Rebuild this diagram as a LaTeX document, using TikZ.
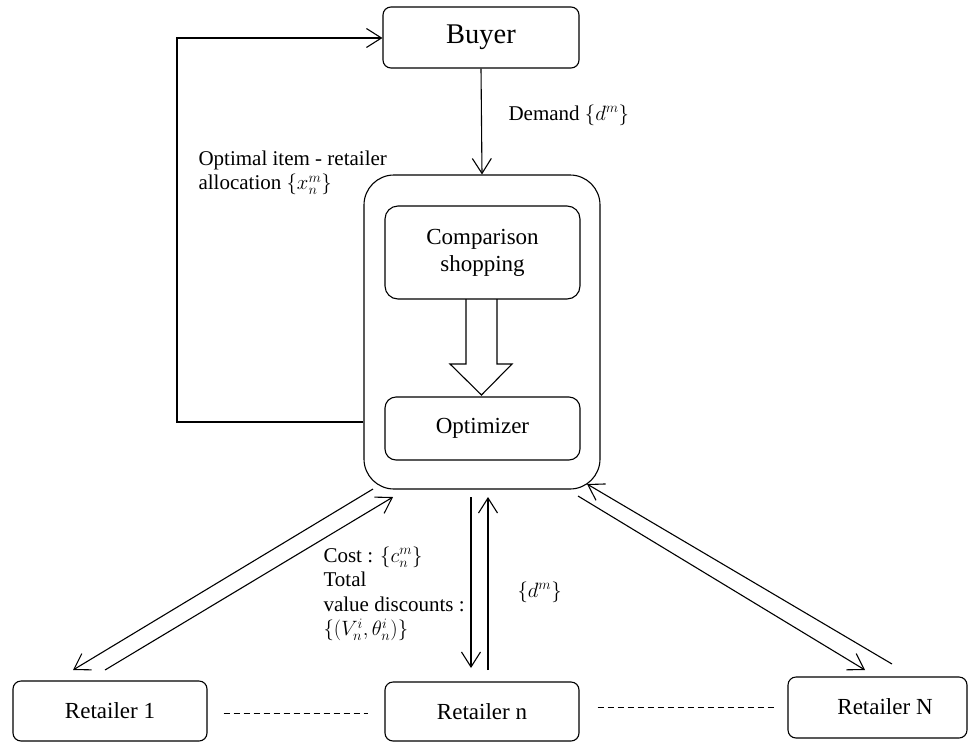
\documentclass[tikz,border=0pt]{standalone}
\usepackage{fontspec}
\setmainfont{LiberationSerif}[Extension=.ttf,UprightFont=*-Regular,BoldFont=*-Bold,ItalicFont=*-Italic,BoldItalicFont=*-BoldItalic]
\usetikzlibrary{arrows.meta}
\begin{document}
\begin{tikzpicture}[x=1pt,y=-1pt,
  every path/.style={line width=1.1pt},
  box/.style={draw,rounded corners=#1,inner sep=0pt,align=center},
  box/.default=8pt,
  lbl/.style={font=\fontsize{21}{24.5}\selectfont,inner sep=0pt,align=left},
  conn/.style={-{Straight Barb[length=15pt,width=19pt,line width=1.1pt]}}]
\useasboundingbox (0,0) rectangle (974,742);
% boxes
\node[box,minimum width=196pt,minimum height=61pt,font=\fontsize{28.5}{32}\selectfont] (buyer) at (481,37.5) {Buyer};
\node[box=30pt,minimum width=236pt,minimum height=314pt] (outer) at (482,332) {};
\node[box=13pt,minimum width=195pt,minimum height=93pt,font=\fontsize{23}{27}\selectfont] (comp) at (482.5,252.5) {Comparison\\shopping};
\node[box=11pt,minimum width=195pt,minimum height=63pt,font=\fontsize{23}{27}\selectfont] (opt) at (482.5,428.5) {Optimizer};
\node[box,minimum width=194pt,minimum height=60pt,font=\fontsize{23}{27}\selectfont] (r1) at (110,711) {Retailer 1};
\node[box,minimum width=194pt,minimum height=59pt,font=\fontsize{23}{27}\selectfont] (rn) at (482,711.5) {Retailer n};
\node[box,minimum width=179pt,minimum height=61pt] (rN) at (877.5,707.5) {};
\node[font=\fontsize{23}{27}\selectfont,inner sep=0pt] (rNt) at (885,707) {Retailer N};
% block arrow
\draw (466,299) -- (466,364) -- (450,364) -- (481.5,395) -- (512,364) -- (497,364) -- (497,299);
% buyer -> outer
\draw[conn] (buyer.south) -- (outer.north);
\node[lbl,anchor=west] (demand) at (508,115) {Demand $\{d^m\}$};
% feedback
\coordinate (fbA) at (outer.west |- 0,422);
\coordinate (fbB) at (177,422);
\coordinate (fbC) at (177,38);
\draw[conn] (fbA) -- (fbB) -- (fbC) -- (buyer.west |- fbC);
\node[lbl,anchor=north west] (optlbl) at (198,150) {Optimal item - retailer\\allocation $\{x_n^m\}$};
% retailer 1 pair
\coordinate (c1a) at (373,489);
\coordinate (c1b) at (73,670);
\coordinate (d1a) at (105,670);
\coordinate (d1b) at (393,497);
\draw[conn] (c1a) -- (c1b);
\draw[conn] (d1a) -- (d1b);
% retailer n pair
\coordinate (cna) at (471,497);
\coordinate (cnb) at (471,668);
\coordinate (dna) at (488,670);
\coordinate (dnb) at (488,497);
\draw[conn] (cna) -- (cnb);
\draw[conn] (dna) -- (dnb);
% retailer N pair
\coordinate (cNa) at (578,496);
\coordinate (cNb) at (865,670);
\coordinate (dNa) at (892,664);
\coordinate (dNb) at (587,484);
\draw[conn] (cNa) -- (cNb);
\draw[conn] (dNa) -- (dNb);
% labels
\node[lbl,anchor=north west] (costlbl) at (323,546) {Cost : $\{c_n^m\}$\\Total\\value discounts :\\$\{(V_n^i,\theta_n^i)\}$};
\node[lbl,anchor=west] (dlbl) at (517,592) {$\{d^m\}$};
% dashed
\draw[dash pattern=on 6pt off 4pt,line width=0.9pt] ([xshift=16pt]r1.east |- 0,713) -- ([xshift=-16pt]rn.west |- 0,713);
\draw[dash pattern=on 6pt off 4pt,line width=0.9pt] ([xshift=18pt]rn.east |- 0,707) -- ([xshift=-10pt]rN.west |- 0,707);
\end{tikzpicture}
\end{document}
